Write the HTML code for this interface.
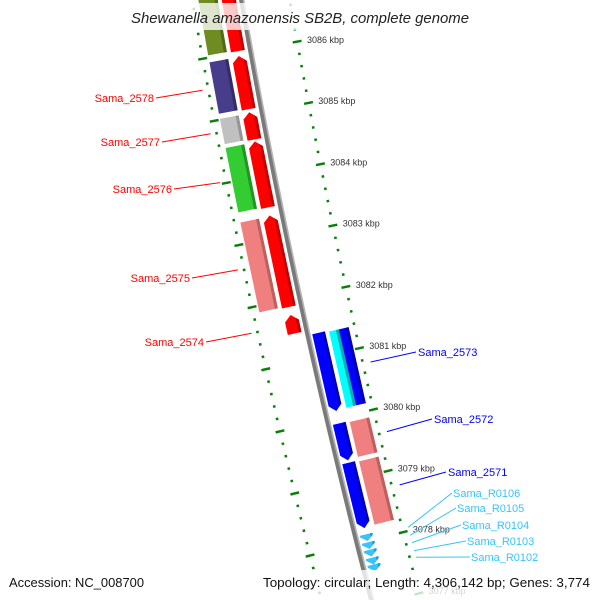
<!DOCTYPE html>
<html><head><meta charset="utf-8"><title>Shewanella amazonensis SB2B genome map</title>
<style>html,body{margin:0;padding:0;background:#fff;width:600px;height:600px;overflow:hidden}svg{display:block;overflow:hidden}text{font-family:"Liberation Sans",sans-serif}</style>
</head><body>
<svg id="map" width="600" height="600" viewBox="0 0 600 600" xmlns="http://www.w3.org/2000/svg">
<g id="ticks"></g>
<g id="backbone"></g>
<g id="genes"></g>
<g id="labels"></g>
<rect x="124" y="3" width="352" height="27" fill="#fff" fill-opacity="0.78"/>
<text x="300" y="23" text-anchor="middle" font-size="14.5" font-style="italic" fill="#222" textLength="338" lengthAdjust="spacingAndGlyphs">Shewanella amazonensis SB2B, complete genome</text>
<rect x="0" y="570" width="600" height="30" fill="#fff" fill-opacity="0.78"/>
<text x="9" y="587" font-size="13" fill="#111" textLength="135" lengthAdjust="spacingAndGlyphs">Accession: NC_008700</text>
<text x="263" y="587" font-size="13" fill="#111" textLength="327" lengthAdjust="spacingAndGlyphs">Topology: circular; Length: 4,306,142 bp; Genes: 3,774</text>
</svg>
<script>
// ---- data ----
const geneNames   = ["top-gene","Sama_2578","Sama_2577","Sama_2576","Sama_2575","Sama_2574","Sama_2573","Sama_2572","Sama_2571"];
const geneStart   = [3087.13,3085.94,3085.03,3084.56,3083.36,3081.75,3081.38,3079.91,3079.27];
const geneEnd     = [3086.02,3085.08,3084.59,3083.49,3081.88,3081.45,3080.11,3079.31,3078.21];
const geneStrand  = [1,1,1,1,1,1,-1,-1,-1];
const geneCog     = [["#6f8c22"],["#483d8b"],["#c0c0c0"],["#33cc33"],["#f08080"],[],["#00ffff","#0000ff"],["#f08080"],["#f08080"]];
const trnaNames   = ["Sama_R0106","Sama_R0105","Sama_R0104","Sama_R0103","Sama_R0102"];
const trnaStart   = [3078.11,3077.98,3077.86,3077.73,3077.62];
const trnaEnd     = [3078.00,3077.87,3077.75,3077.62,3077.51];
const majorTicks  = [3086,3085,3084,3083,3082,3081,3080,3079,3078,3077];
const tickLabels  = ["3086 kbp","3085 kbp","3084 kbp","3083 kbp","3082 kbp","3081 kbp","3080 kbp","3079 kbp","3078 kbp","3077 kbp"];
const tickMinKbp  = 3076.8;
const tickMaxKbp  = 3086.8;

// ---- geometry ----
const NS="http://www.w3.org/2000/svg";
function sOf(k){return 50+(3086-k)*61.7;}
function P(s,v){const d=0.1742+1.416e-4*s;const n=Math.sqrt(1+d*d);const x=242+0.1742*s+7.08e-5*s*s;return [x+v/n,s-v*d/n];}
function pts(a){return a.map(p=>p[0].toFixed(2)+","+p[1].toFixed(2)).join(" ");}
function mk(tag,parent,attrs){const e=document.createElementNS(NS,tag);for(const k in attrs)e.setAttribute(k,attrs[k]);parent.appendChild(e);return e;}
function shade(c){const m={"#ff0000":"#c40000","#0000ff":"#0000b0","#6f8c22":"#53691a","#483d8b":"#342c68","#c0c0c0":"#969696","#33cc33":"#229522","#f08080":"#bd5f5f","#00ffff":"#00b0b0"};return m[c]||c;}

// ---- ticks ----
const gT=document.getElementById('ticks');
[-49,47].forEach(function(vt,side){
  for(let k=tickMaxKbp;k>=tickMinKbp-1e-6;k-=0.2){
    const kk=Math.round(k*10)/10;
    const s=sOf(kk);
    if(P(s,vt)[1]>598) continue;
    const major=Math.abs(kk-Math.round(kk))<1e-6;
    const hw=major?4.5:1.3;
    const a=P(s-1.2,vt-hw),b=P(s-1.2,vt+hw),c=P(s+1.2,vt+hw),d=P(s+1.2,vt-hw);
    const t=mk('polygon',gT,{points:pts([a,b,c,d]),fill:'#0a800a'});
    
    
  }
});
majorTicks.forEach(function(k,i){
  const p=P(sOf(k),57);
  const t=mk('text',gT,{x:p[0].toFixed(1),y:(p[1]+3).toFixed(1),'font-size':'9',fill:'#333'});
  t.textContent=tickLabels[i];
  
  
});

// ---- backbone ----
const gB=document.getElementById('backbone');
const bb1=[],bb2=[];
for(let s=-10;s<=610;s+=10){bb1.push(P(s,-0.8));bb2.push(P(s,1.6));}
const l1=mk('polyline',gB,{points:pts(bb1),fill:'none',stroke:'#7a7a7a','stroke-width':'4.2'});


const l2=mk('polyline',gB,{points:pts(bb2),fill:'none',stroke:'#b4b4b4','stroke-width':'1.6'});



// ---- genes ----
const gG=document.getElementById('genes');
function arrow(s0,s1,v0,v1,dir,h,fill,dark,name){
  const vc=(v0+v1)/2, hw=(v1-v0)/2, sw=Math.min(3,hw*0.4);
  let shape,strip;
  if(dir>0){
    shape=[P(s0+h,v0),P(s0,vc),P(s0+h,v1),P(s1,v1),P(s1,v0)];
    strip=[P(s0+h*(1-sw/hw),v1-sw),P(s0+h,v1),P(s1,v1),P(s1,v1-sw)];
  }else{
    shape=[P(s0,v0),P(s0,v1),P(s1-h,v1),P(s1,vc),P(s1-h,v0)];
    strip=[P(s0,v1-sw),P(s0,v1),P(s1-h,v1),P(s1-h*(1-sw/hw),v1-sw)];
  }
  const a=mk('polygon',gG,{points:pts(shape),fill:fill});
  
  
  const b=mk('polygon',gG,{points:pts(strip),fill:dark});
  
  
}
function box(s0,s1,v0,v1,fill,name){
  const a=mk('polygon',gG,{points:pts([P(s0,v0),P(s0,v1),P(s1,v1),P(s1,v0)]),fill:fill});
  
  
  const b=mk('polygon',gG,{points:pts([P(s0,v1-3),P(s0,v1),P(s1,v1),P(s1,v1-3)]),fill:shade(fill)});
  
  
}
geneNames.forEach(function(nm,i){
  const s0=sOf(geneStart[i]),s1=sOf(geneEnd[i]);
  const fwd=geneStrand[i]>0;
  const gv0=fwd?-20:4, gv1=fwd?-6:17;
  const col=fwd?'#ff0000':'#0000ff';
  arrow(s0,s1,gv0,gv1,fwd?1:-1,6,col,shade(col),'gene-'+nm.toLowerCase().replace('_','-'));
  const cogs=geneCog[i];
  if(cogs.length){
    const cv0=fwd?-43:21, cv1=fwd?-24:41;
    const w=(cv1-cv0)/cogs.length;
    cogs.forEach(function(c,j){box(s0+1,s1-1,cv0+j*w,cv0+(j+1)*w,c,'cog-box-'+nm.toLowerCase().replace('_','-'));});
  }
});
trnaNames.forEach(function(nm,i){
  const s0=sOf(trnaStart[i]),s1=sOf(trnaEnd[i]);
  arrow(s0,s1,4,17,-1,5,'#38c4f8','#1e9ad8','trna-'+nm.toLowerCase().replace('_','-'));
});

// ---- labels ----
const gL=document.getElementById('labels');
const leftIdx=[1,2,3,4,5];
const leftTextX=[154,160,172,190,204];
const leftTextY=[102,146,193,282,346];
leftIdx.forEach(function(gi,j){
  const m=(sOf(geneStart[gi])+sOf(geneEnd[gi]))/2;
  const e=P(m,-55);
  const ln=mk('line',gL,{x1:leftTextX[j]+2,y1:leftTextY[j]-4,x2:e[0].toFixed(1),y2:e[1].toFixed(1),stroke:'#ff0000','stroke-width':'1'});
  
  
  const t=mk('text',gL,{x:leftTextX[j],y:leftTextY[j],'text-anchor':'end','font-size':'11',fill:'#ff0000'});
  t.textContent=geneNames[gi];
  
  
});
const rightIdx=[6,7,8];
const rightTextX=[418,434,448];
const rightTextY=[356,423,476];
rightIdx.forEach(function(gi,j){
  const m=(sOf(geneStart[gi])+sOf(geneEnd[gi]))/2;
  const e=P(m,55);
  const ln=mk('line',gL,{x1:e[0].toFixed(1),y1:e[1].toFixed(1),x2:rightTextX[j]-2,y2:rightTextY[j]-4,stroke:'#0000ff','stroke-width':'1'});
  
  
  const t=mk('text',gL,{x:rightTextX[j],y:rightTextY[j],'font-size':'11',fill:'#0000ff'});
  t.textContent=geneNames[gi];
  
  
});
const trnaTextX=[453,457,462,467,471];
const trnaTextY=[497,512,529,545,561];
trnaNames.forEach(function(nm,j){
  const m=(sOf(trnaStart[j])+sOf(trnaEnd[j]))/2;
  const e=P(m,53);
  const ln=mk('line',gL,{x1:e[0].toFixed(1),y1:e[1].toFixed(1),x2:trnaTextX[j]-1,y2:trnaTextY[j]-4,stroke:'#38c4f8','stroke-width':'1'});
  
  
  const t=mk('text',gL,{x:trnaTextX[j],y:trnaTextY[j],'font-size':'11',fill:'#38c4f8'});
  t.textContent=nm;
  
  
});
</script>
</body></html>
